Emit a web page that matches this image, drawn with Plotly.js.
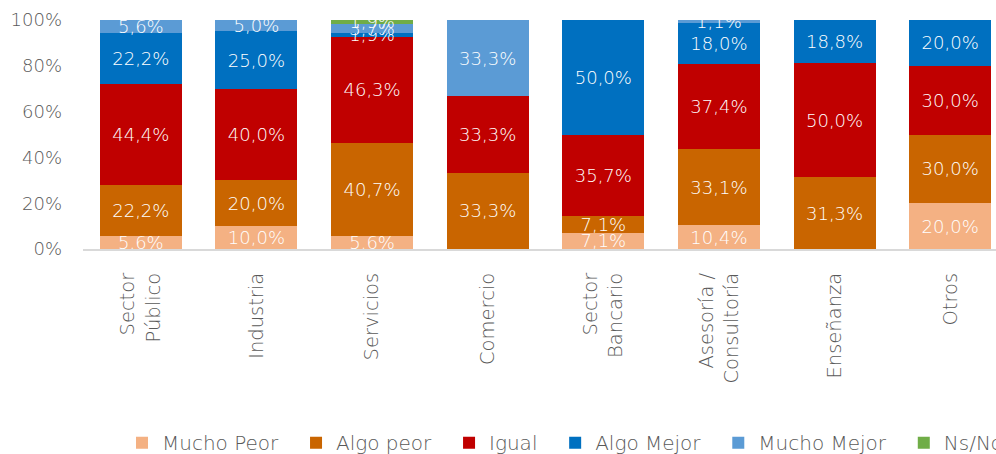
<!DOCTYPE html>
<html>
<head>
<meta charset="utf-8">
<script src="https://cdn.plot.ly/plotly-3.0.1.min.js"></script>
<style>
html,body{margin:0;padding:0;overflow:hidden;background:#fff;}
#chart{width:1020px;height:454px;}
</style>
</head>
<body>
<div id="chart"></div>
<script>
const categories = ['Sector<br>Público','Industria','Servicios','Comercio','Sector<br>Bancario','Asesoría /<br>Consultoría','Enseñanza','Otros'];
const muchoPeor  = [5.6, 10.0, 5.6, 0,    7.1,  10.4, 0,    20.0];
const algoPeor   = [22.2, 20.0, 40.7, 33.3, 7.1, 33.1, 31.3, 30.0];
const igual      = [44.4, 40.0, 46.3, 33.3, 35.7, 37.4, 50.0, 30.0];
const algoMejor  = [22.2, 25.0, 1.9, 0,    50.0, 18.0, 18.8, 20.0];
const muchoMejor = [5.6, 5.0, 3.7, 33.3, 0,    1.1,  0,    0];
const nsNc       = [0,   0,   1.9, 0,    0,    0,    0,    0];

const seriesNames = ['Mucho Peor','Algo peor','Igual','Algo Mejor','Mucho Mejor','Ns/Nc'];
const seriesValues = [muchoPeor, algoPeor, igual, algoMejor, muchoMejor, nsNc];
const seriesColors = ['#F4B183','#C96500','#C00000','#0070C0','#5B9BD5','#70AD47'];

const FONT = '"DejaVu Sans", sans-serif';
const W = 200;
const fmt = v => v > 0 ? v.toFixed(1).replace('.', ',') + '%' : '';
const PAD = '\u00a0\u00a0';

const traces = seriesNames.map((name, i) => ({
  type: 'bar',
  name: name + PAD,
  x: categories,
  y: seriesValues[i],
  text: seriesValues[i].map(fmt),
  textposition: 'inside',
  insidetextanchor: 'middle',
  constraintext: 'none',
  textfont: {family: FONT, size: 18, color: '#ffffff', weight: W},
  marker: {color: seriesColors[i], line: {width: 0}},
  hoverinfo: 'skip'
}));

const layout = {
  width: 1020,
  height: 454,
  margin: {l: 83, r: 12, t: 20, b: 205},
  barmode: 'stack',
  bargap: 0.29,
  paper_bgcolor: '#ffffff',
  plot_bgcolor: '#ffffff',
  font: {family: FONT, size: 18, color: '#595959', weight: W},
  showlegend: true,
  legend: {
    orientation: 'h',
    traceorder: 'normal',
    xref: 'paper',
    x: 0.0633, xanchor: 'left',
    yref: 'container',
    y: 0.025, yanchor: 'middle',
    font: {family: FONT, size: 20, color: '#595959', weight: W},
    itemwidth: 30
  },
  xaxis: {
    type: 'category',
    tickangle: -90,
    showline: true,
    linecolor: '#d9d9d9',
    linewidth: 2,
    ticks: '',
    showgrid: false,
    ticklabelstandoff: 14,
    tickfont: {family: FONT, size: 19.5, color: '#595959', weight: W}
  },
  yaxis: {
    range: [0, 100],
    dtick: 20,
    ticksuffix: '%',
    showgrid: false,
    zeroline: false,
    showline: false,
    ticks: '',
    ticklabelstandoff: 20,
    tickfont: {family: FONT, size: 18, color: '#595959', weight: W}
  }
};

Plotly.newPlot('chart', traces, layout, {displayModeBar: false, responsive: false});
</script>
</body>
</html>
